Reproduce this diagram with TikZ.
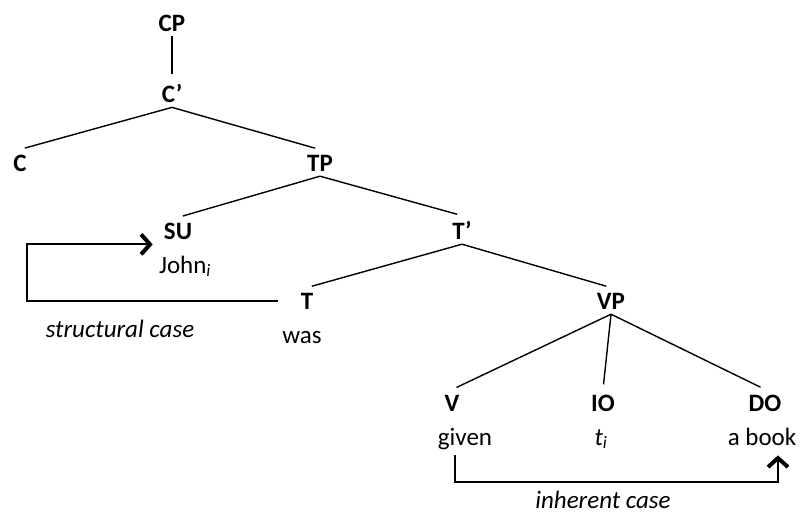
\documentclass[tikz,border=0pt]{standalone}
\usepackage{fontspec}
\setmainfont{Carlito}
\usetikzlibrary{arrows.meta}

\begin{document}
\begin{tikzpicture}[x=1pt,y=-1pt,
    every node/.style={font=\fontsize{25}{30}\selectfont,inner sep=5pt},
    cat/.style={anchor=base,font=\fontsize{25}{30}\selectfont\bfseries},
    word/.style={anchor=base},
    casename/.style={anchor=base,inner sep=1pt,font=\fontsize{25}{30}\selectfont\itshape},
    branch/.style={line width=1.4pt,shorten >=5pt},
    casearrow/.style={line width=2pt,-{Straight Barb[length=9pt,width=20pt,line width=4pt]}}]
    \useasboundingbox (0,0) rectangle (806,514);
    % categories
    \node[cat] (cp)   at (172,31)  {CP};
    \node[cat] (cbar) at (172,102) {C’};
    \node[cat] (c)    at (20,171)  {C};
    \node[cat] (tp)   at (320,171) {TP};
    \node[cat] (su)   at (178,239) {SU};
    \node[cat] (tbar) at (462,239) {T’};
    \node[cat] (t)    at (307,309) {T};
    \node[cat] (vp)   at (611,309) {VP};
    \node[cat] (v)    at (452,411) {V};
    \node[cat] (io)   at (603,411) {IO};
    \node[cat] (do)   at (765,411) {DO};
    % words
    \node[word] (john)  at (185,273) {John\textsubscript{\textit{i}}};
    \node[word] (was)   at (302,343) {was};
    \node[word] (given) at (465,445) {given};
    \node[word] (trace) at (601,445) {\textit{t}\textsubscript{\textit{i}}};
    \node[word] (book)  at (762,445) {a book};
    % branches
    \foreach \a/\b in {cp/cbar,cbar/c,cbar/tp,tp/su,tp/tbar,tbar/t,tbar/vp,vp/v,vp/io,vp/do}
    {
      \draw[branch] (\a.south) -- (\b.north);
    }
    % case assignment
    \coordinate (sbend) at (27,0);
    \draw[casearrow,shorten <=18pt,shorten >=6pt] (t.west) -| (sbend |- su.south) -- (su.south west);
    \node[casename] (scase) at (120,337) {structural case};
    \coordinate (ibend) at (455,482);
    \draw[casearrow,shorten >=5pt] ([xshift=-10pt]given.south) -- (ibend) -| ([xshift=16pt]book.south);
    \node[casename] (icase) at (603,508) {inherent case};
\end{tikzpicture}
\end{document}
